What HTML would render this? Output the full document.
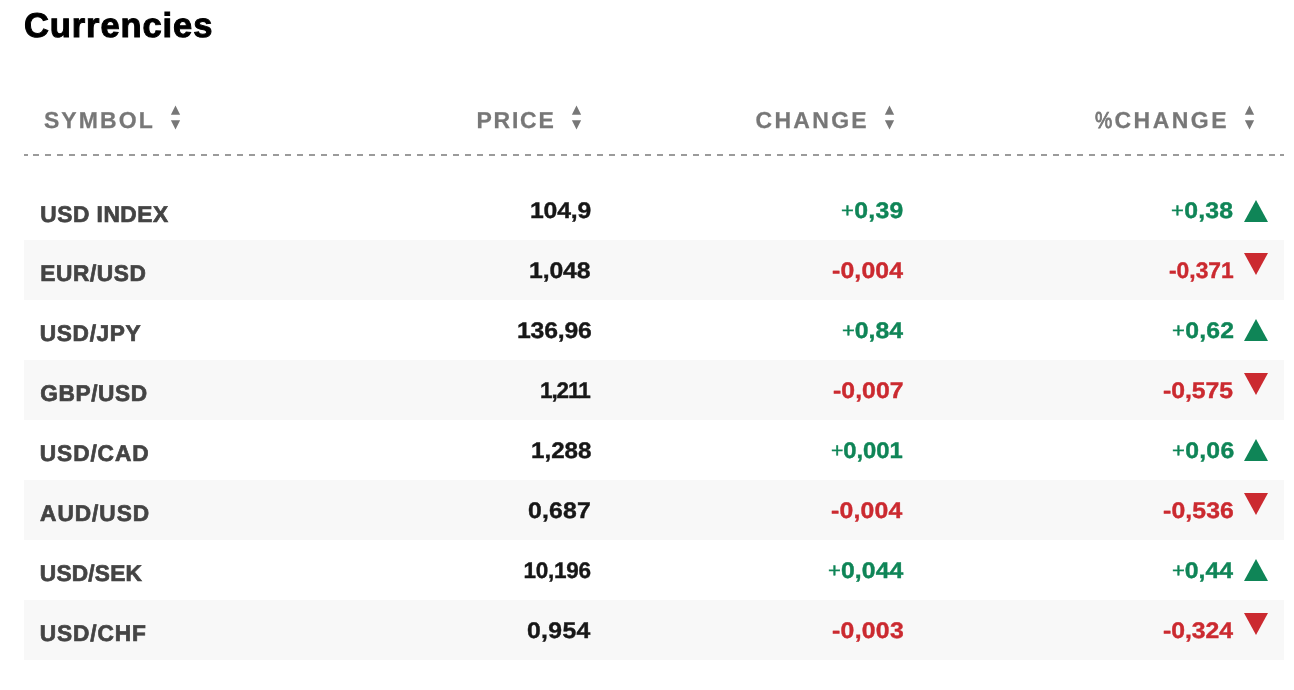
<!DOCTYPE html>
<html lang="en">
<head>
<meta charset="utf-8">
<title>Currencies</title>
<style>
  html, body { margin: 0; padding: 0; background: #fff; }
  body { width: 1294px; height: 690px; overflow: hidden; position: relative;
         font-family: "Liberation Sans", sans-serif; font-weight: bold; text-rendering: geometricPrecision; }
  h1, .th, .c { position: absolute; margin: 0; white-space: nowrap; }
  h1, .th, .c { transform-origin: 0 50%; }
  h1 { top: 5.65px; font-size: 34.5px; line-height: 40px; color: #000; -webkit-text-stroke: 1px #000; }
  .rule { position: absolute; left: 24px; top: 154px; width: 1260px; height: 2px;
          background: linear-gradient(#9b9b9b,#9b9b9b) 0 0 / 4px 2px no-repeat,
                      linear-gradient(#9b9b9b,#9b9b9b) 1256px 0 / 4px 2px no-repeat,
                      repeating-linear-gradient(90deg, #9b9b9b 0, #9b9b9b 6px, transparent 6px, transparent 12px) 9px 0 / 1242px 2px no-repeat; }
  .th { top: 104.8px; height: 30px; line-height: 30px; font-size: 23px; color: #777; -webkit-text-stroke: 0.25px #777; }
  .pct { display: inline-block; font-weight: normal; transform: scaleX(0.84); transform-origin: 0 50%; margin-right: -3.3px; -webkit-text-stroke: 0.9px #777; }
  .sort { position: absolute; top: 105px; width: 12px; height: 25px; overflow: visible; }
  .row { position: absolute; left: 24px; width: 1260px; height: 60px; }
  .row.alt { background: #f8f8f8; }
  .c { top: 0.6px; height: 60px; line-height: 60px; font-size: 22.5px; }
  .sg { font-weight: normal; font-size: 20px; line-height: 0; position: relative; top: -0.8px; }
  .mn { position: relative; top: 0.7px; }
  .sym.first { top: 4.1px; }
  .sym { color: #444; top: 3.1px; font-size: 22.7px; -webkit-text-stroke: 0.7px #444; }
  .pr { color: #171717; -webkit-text-stroke: 0.4px #171717; }
  .up { color: #0f8557; }
  .c.up { -webkit-text-stroke: 0.4px #0f8557; }
  .dn { color: #cb2a30; }
  .c.dn { -webkit-text-stroke: 0.4px #cb2a30; }
  .tri { position: absolute; left: 1220px; width: 0; height: 0; border-left: 12px solid transparent; border-right: 12px solid transparent; }
  .tri.up.first { top: 20px; }
  .tri.up { top: 19px; border-bottom: 22px solid #0f8557; }
  .tri.dn { top: 13px; border-top: 22px solid #cb2a30; }
</style>
</head>
<body>
<h1 id="title" style="left:23.92px;letter-spacing:0.910px">Currencies</h1>
<div class="th" role="columnheader" id="h0" style="left:43.92px;letter-spacing:2.089px">SYMBOL</div>
<svg class="sort" aria-hidden="true" style="left:170px" width="12" height="25" viewBox="0 0 12 25"><polygon points="0.85,9.8 10.15,9.8 5.50,0.5" fill="#777"/><polygon points="0.85,15.2 10.15,15.2 5.50,24.5" fill="#777"/></svg>
<div class="th" role="columnheader" id="h1" style="left:476.52px;letter-spacing:1.739px">PRICE</div>
<svg class="sort" aria-hidden="true" style="left:571px" width="12" height="25" viewBox="0 0 12 25"><polygon points="0.85,9.8 10.15,9.8 5.50,0.5" fill="#777"/><polygon points="0.85,15.2 10.15,15.2 5.50,24.5" fill="#777"/></svg>
<div class="th" role="columnheader" id="h2" style="left:755.48px;letter-spacing:2.310px">CHANGE</div>
<svg class="sort" aria-hidden="true" style="left:884px" width="12" height="25" viewBox="0 0 12 25"><polygon points="0.85,9.8 10.15,9.8 5.50,0.5" fill="#777"/><polygon points="0.85,15.2 10.15,15.2 5.50,24.5" fill="#777"/></svg>
<div class="th" role="columnheader" id="h3" style="left:1094.84px;letter-spacing:2.477px"><span class="pct">%</span>CHANGE</div>
<svg class="sort" aria-hidden="true" style="left:1244px" width="12" height="25" viewBox="0 0 12 25"><polygon points="0.85,9.8 10.15,9.8 5.50,0.5" fill="#777"/><polygon points="0.85,15.2 10.15,15.2 5.50,24.5" fill="#777"/></svg>
<div class="rule"></div>
<div class="row" role="row" style="top:180px">
  <span class="c sym first" id="s0" style="left:16.32px;letter-spacing:0.524px">USD INDEX</span>
  <span class="c pr" id="p0" style="left:505.88px;letter-spacing:-0.146px;transform:scaleX(1.100)">104,9</span>
  <span class="c up" id="c0" style="left:817.32px;letter-spacing:0.270px;transform:scaleX(1.100)"><span class="sg">+</span>0,39</span>
  <span class="c up" id="q0" style="left:1147.32px;letter-spacing:0.245px;transform:scaleX(1.100)"><span class="sg">+</span>0,38</span>
  <i class="tri up first"></i>
</div>
<div class="row alt" role="row" style="top:240px">
  <span class="c sym" id="s1" style="left:16.16px;letter-spacing:0.621px">EUR/USD</span>
  <span class="c pr" id="p1" style="left:505.36px;letter-spacing:-0.108px;transform:scaleX(1.100)">1,048</span>
  <span class="c dn" id="c1" style="left:807.84px;letter-spacing:0.159px;transform:scaleX(1.100)"><span class="mn">-</span>0,004</span>
  <span class="c dn" id="q1" style="left:1144.76px;letter-spacing:-0.000px;transform:scaleX(1.014)"><span class="mn">-</span>0,371</span>
  <i class="tri dn"></i>
</div>
<div class="row" role="row" style="top:300px">
  <span class="c sym" id="s2" style="left:15.80px;letter-spacing:0.643px">USD/JPY</span>
  <span class="c pr" id="p2" style="left:492.68px;letter-spacing:-0.150px;transform:scaleX(1.100)">136,96</span>
  <span class="c up" id="c2" style="left:817.60px;letter-spacing:-0.018px;transform:scaleX(1.100)"><span class="sg">+</span>0,84</span>
  <span class="c up" id="q2" style="left:1147.60px;letter-spacing:0.245px;transform:scaleX(1.100)"><span class="sg">+</span>0,62</span>
  <i class="tri up"></i>
</div>
<div class="row alt" role="row" style="top:360px">
  <span class="c sym" id="s3" style="left:16.24px;letter-spacing:0.590px">GBP/USD</span>
  <span class="c pr" id="p3" style="left:515.96px;letter-spacing:-1.077px">1,211</span>
  <span class="c dn" id="c3" style="left:809.04px;letter-spacing:0.059px;transform:scaleX(1.100)"><span class="mn">-</span>0,007</span>
  <span class="c dn" id="q3" style="left:1139.32px;letter-spacing:-0.039px;transform:scaleX(1.100)"><span class="mn">-</span>0,575</span>
  <i class="tri dn"></i>
</div>
<div class="row" role="row" style="top:420px">
  <span class="c sym" id="s4" style="left:15.80px;letter-spacing:0.906px">USD/CAD</span>
  <span class="c pr" id="p4" style="left:506.64px;letter-spacing:-0.000px;transform:scaleX(1.073)">1,288</span>
  <span class="c up" id="c4" style="left:807.28px;letter-spacing:-0.046px;transform:scaleX(1.058)"><span class="sg">+</span>0,001</span>
  <span class="c up" id="q4" style="left:1147.60px;letter-spacing:0.264px;transform:scaleX(1.100)"><span class="sg">+</span>0,06</span>
  <i class="tri up"></i>
</div>
<div class="row alt" role="row" style="top:480px">
  <span class="c sym" id="s5" style="left:16.08px;letter-spacing:0.955px">AUD/USD</span>
  <span class="c pr" id="p5" style="left:504.08px;letter-spacing:0.207px;transform:scaleX(1.100)">0,687</span>
  <span class="c dn" id="c5" style="left:807.28px;letter-spacing:0.181px;transform:scaleX(1.100)"><span class="mn">-</span>0,004</span>
  <span class="c dn" id="q5" style="left:1138.80px;letter-spacing:0.122px;transform:scaleX(1.100)"><span class="mn">-</span>0,536</span>
  <i class="tri dn"></i>
</div>
<div class="row" role="row" style="top:540px">
  <span class="c sym" id="s6" style="left:15.80px;letter-spacing:0.201px">USD/SEK</span>
  <span class="c pr" id="p6" style="left:499.48px;letter-spacing:-0.257px">10,196</span>
  <span class="c up" id="c6" style="left:803.64px;letter-spacing:0.094px;transform:scaleX(1.100)"><span class="sg">+</span>0,044</span>
  <span class="c up" id="q6" style="left:1147.60px;letter-spacing:-0.030px;transform:scaleX(1.100)"><span class="sg">+</span>0,44</span>
  <i class="tri up"></i>
</div>
<div class="row alt" role="row" style="top:600px">
  <span class="c sym" id="s7" style="left:15.80px;letter-spacing:0.867px">USD/CHF</span>
  <span class="c pr" id="p7" style="left:503.40px;letter-spacing:0.294px;transform:scaleX(1.100)">0,954</span>
  <span class="c dn" id="c7" style="left:808.04px;letter-spacing:0.274px;transform:scaleX(1.100)"><span class="mn">-</span>0,003</span>
  <span class="c dn" id="q7" style="left:1138.80px;letter-spacing:-0.046px;transform:scaleX(1.100)"><span class="mn">-</span>0,324</span>
  <i class="tri dn"></i>
</div>
</body>
</html>
